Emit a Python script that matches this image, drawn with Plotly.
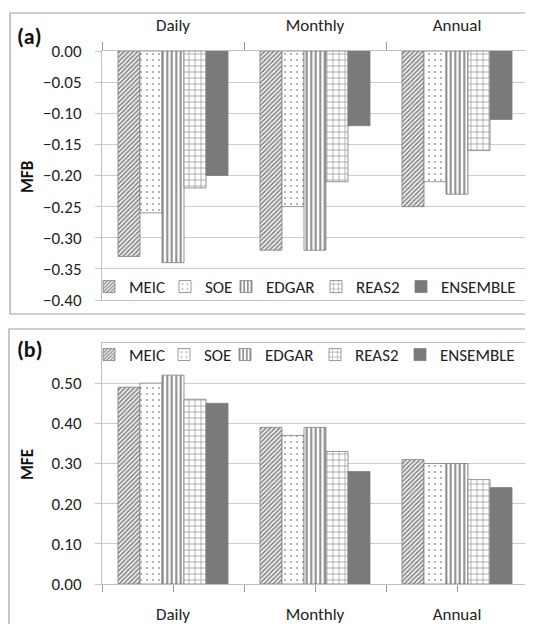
import plotly.graph_objects as go

categories = ["Daily", "Monthly", "Annual"]
series = ["MEIC", "SOE", "EDGAR", "REAS2", "ENSEMBLE"]

mfb_meic = [-0.33, -0.32, -0.25]
mfb_soe = [-0.26, -0.25, -0.21]
mfb_edgar = [-0.34, -0.32, -0.23]
mfb_reas2 = [-0.22, -0.21, -0.16]
mfb_ensemble = [-0.20, -0.12, -0.11]

mfe_meic = [0.49, 0.39, 0.31]
mfe_soe = [0.50, 0.37, 0.30]
mfe_edgar = [0.52, 0.39, 0.30]
mfe_reas2 = [0.46, 0.33, 0.26]
mfe_ensemble = [0.45, 0.28, 0.24]

mfb_ticks = [0.0, -0.05, -0.10, -0.15, -0.20, -0.25, -0.30, -0.35, -0.40]
mfe_ticks = [0.0, 0.1, 0.2, 0.3, 0.4, 0.5]

mfb = [mfb_meic, mfb_soe, mfb_edgar, mfb_reas2, mfb_ensemble]
mfe = [mfe_meic, mfe_soe, mfe_edgar, mfe_reas2, mfe_ensemble]

# page body has an 8px margin; work in screen pixels and convert
OFF = 8
W, H = 533 - OFF, 624 - OFF
def px(x):
    return (x - OFF) / W
def py(y):
    return 1 - (y - OFF) / H

FONT = "Carlito, Lato, 'Liberation Sans', sans-serif"
styles = [
    dict(shape="/", fgcolor="#111111", bgcolor="white", size=3.2, solidity=0.55),
    dict(shape=".", fgcolor="#444444", bgcolor="white", size=6, solidity=0.1),
    dict(shape="|", fgcolor="#111111", bgcolor="white", size=4.5, solidity=0.45),
    dict(shape="+", fgcolor="#262626", bgcolor="white", size=6, solidity=0.22),
    None,
]

# legend text start positions (screen px) for each series
leg_text_top = [126, 202, 263, 353, 438]
leg_text_bot = [126, 201, 262, 352, 437]
LEG_TOP_Y = 287
LEG_BOT_Y = 355

fig = go.Figure()
legends = {}
for i, name in enumerate(series):
    for vals, xa, ya, k, xs, ly in [(mfb, "x", "y", i + 1, leg_text_top, LEG_TOP_Y),
                                    (mfe, "x2", "y2", i + 6, leg_text_bot, LEG_BOT_Y)]:
        marker = dict(line=dict(color="#7f7f7f", width=0.8))
        if styles[i] is None:
            marker["color"] = "#7a7a7a"
        else:
            marker["color"] = "white"
            marker["pattern"] = dict(fillmode="overlay", **styles[i])
        lname = "legend" if k == 1 else f"legend{k}"
        fig.add_trace(go.Bar(
            x=categories, y=vals[i], name=name, marker=marker,
            xaxis=xa, yaxis=ya, legend=lname,
        ))
        legends[lname] = dict(
            orientation="h", x=px(xs[i] + 3 - 40), y=py(ly), xanchor="left", yanchor="middle",
            font=dict(family=FONT, size=17, color="#222"), bgcolor="rgba(255,255,255,0)",
            itemwidth=30, borderwidth=0,
        )

# invisible helper trace so the boundary-tick axis of panel (b) is drawn
fig.add_trace(go.Scatter(x=[], y=[], xaxis="x3", yaxis="y2", showlegend=False,
                         hoverinfo="skip"))

xdom = [px(102), px(528)]
axis_common = dict(
    linecolor="#bfbfbf", linewidth=1, mirror=True, showline=True, automargin=False,
    tickfont=dict(family=FONT, size=17, color="#222"),
)
fig.update_layout(
    width=W, height=H,
    margin=dict(l=0, r=0, t=0, b=0),
    paper_bgcolor="white", plot_bgcolor="white",
    barmode="group", bargap=0.225, bargroupgap=0,
    font=dict(family=FONT, size=17, color="#222"),
    xaxis=dict(domain=xdom, anchor="y", side="top", type="category",
               tickson="boundaries", ticks="outside", ticklen=8, tickcolor="#999",
               ticklabelstandoff=12, showgrid=False, **axis_common),
    yaxis=dict(domain=[py(300), py(51)], anchor="x", range=[-0.40, 0.0],
               tickvals=mfb_ticks, tickformat=".2f", ticks="outside", ticklen=6,
               tickcolor="#c8c8c8", ticklabelstandoff=10, showgrid=True, gridcolor="#cccccc",
               gridwidth=1, zeroline=False, **axis_common),
    xaxis2=dict(domain=xdom, anchor="y2", side="bottom", type="category",
                ticks="outside", ticklen=7, tickcolor="#999",
                ticklabelstandoff=8, showgrid=False, **axis_common),
    xaxis3=dict(domain=xdom, anchor="y2", overlaying="x2", side="bottom", type="linear",
                range=[-0.5, 2.5], tickvals=[-0.5, 0.5, 1.5, 2.5], showticklabels=False,
                ticks="outside", ticklen=7, tickcolor="#999", showgrid=False,
                showline=False, zeroline=False, automargin=False),
    yaxis2=dict(domain=[py(584), py(343)], anchor="x2", range=[0, 0.6],
                tickvals=mfe_ticks, tickformat=".2f", ticks="outside", ticklen=6,
                tickcolor="#c8c8c8", ticklabelstandoff=10, showgrid=True, gridcolor="#cccccc",
                gridwidth=1, zeroline=False, **axis_common),
    showlegend=True,
    **legends,
)

fig.add_shape(type="rect", xref="paper", yref="paper",
              x0=px(10), x1=px(545), y0=py(314), y1=py(13),
              line=dict(color="#a0a0a0", width=1.2))
fig.add_shape(type="rect", xref="paper", yref="paper",
              x0=px(9), x1=px(545), y0=py(640), y1=py(329),
              line=dict(color="#a0a0a0", width=1.2))

ann = dict(xref="paper", yref="paper", showarrow=False, xanchor="center", yanchor="middle")
fig.add_annotation(text="<b>(a)</b>", x=px(29), y=py(37),
                   font=dict(family=FONT, size=22, color="#111"), **ann)
fig.add_annotation(text="<b>(b)</b>", x=px(30), y=py(349),
                   font=dict(family=FONT, size=22, color="#111"), **ann)
fig.add_annotation(text="<b>MFB</b>", x=px(27), y=py(177), textangle=-90,
                   font=dict(family=FONT, size=17, color="#111"), **ann)
fig.add_annotation(text="<b>MFE</b>", x=px(27), y=py(465), textangle=-90,
                   font=dict(family=FONT, size=17, color="#111"), **ann)

fig.write_html("out.html")
